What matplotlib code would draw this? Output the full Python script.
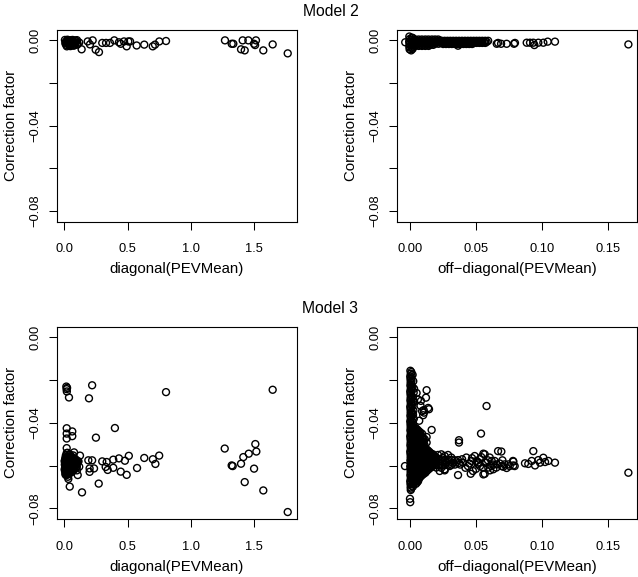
import matplotlib
matplotlib.use("Agg")
import matplotlib.pyplot as plt

plt.rcParams['font.family'] = ['Liberation Sans', 'DejaVu Sans']

# ---------------- data ----------------
# Model 2, diagonal(PEVMean)
m2_diag_x = [0.005, 0.025, 0.045, 0.065, 0.085, 0.100, 0.012, 0.035, 0.055, 0.075,
             0.095, 0.008, 0.030, 0.050, 0.070, 0.090, 0.015, 0.040, 0.060, 0.080,
             0.105, 0.020, 0.048, 0.072, 0.118, 0.018, 0.038, 0.062, 0.082, 0.028,
             0.058, 0.103, 0.137, 0.185, 0.224, 0.203, 0.248, 0.274, 0.300, 0.330,
             0.361, 0.395, 0.432, 0.446, 0.472, 0.506, 0.493, 0.520, 0.572, 0.632,
             0.699, 0.717, 0.751, 0.804,
             1.270, 1.323, 1.336, 1.397, 1.426, 1.410, 1.455, 1.515, 1.500, 1.508,
             1.573, 1.647, 1.766]
m2_diag_y = [0.0002, 0.0003, 0.0001, 0.0002, 0.0000, 0.0001, -0.0006, -0.0005, -0.0007, -0.0006,
             -0.0004, -0.0014, -0.0013, -0.0015, -0.0012, -0.0014, -0.0021, -0.0022, -0.0020, -0.0023,
             -0.0016, -0.0028, -0.0027, -0.0025, -0.0010, -0.0010, -0.0018, -0.0002, -0.0009, 0.0000,
             -0.0012, -0.0020, -0.0042, -0.0005, 0.0000, -0.0019, -0.0044, -0.0055, -0.0012, -0.0012,
             -0.0012, 0.0000, -0.0009, -0.0016, -0.0005, -0.0005, -0.0028, -0.0005, -0.0024, -0.0020,
             -0.0028, -0.0020, -0.0005, -0.0003,
             0.0000, -0.0016, -0.0016, -0.0042, -0.0047, 0.0000, 0.0000, 0.0000, -0.0016, -0.0022,
             -0.0047, -0.0019, -0.0061]

# Model 2, off-diagonal(PEVMean)
m2_off_lead_x = [-0.0005, 0.0012, -0.0003, 0.0010, -0.0006, 0.0013, -0.0004, 0.0011, -0.0005, 0.0012,
                 -0.0003, 0.0009, 0.0020, 0.0018, 0.0022, 0.0019, 0.0021, 0.0018, 0.0020]
m2_off_lead_y = [0.0018, 0.0012, 0.0006, 0.0000, -0.0006, -0.0012, -0.0018, -0.0024, -0.0030, -0.0036,
                 -0.0042, -0.0047, 0.0012, 0.0003, -0.0006, -0.0015, -0.0024, -0.0033, -0.0040]
m2_off_rows_y = [0.0004, -0.0001, -0.0006, -0.0011, -0.0016, -0.0021, -0.0026,
                 -0.0002, -0.0007, -0.0012, -0.0017]
m2_off_rows_x = [
    [0.0040, 0.0065, 0.0090, 0.0116, 0.0140, 0.0166, 0.0190, 0.0214],
    [0.0030, 0.0053, 0.0078, 0.0103, 0.0128, 0.0152, 0.0178, 0.0203, 0.0226],
    [0.0040, 0.0065, 0.0091, 0.0115, 0.0140, 0.0165, 0.0189, 0.0214],
    [0.0030, 0.0052, 0.0078, 0.0102, 0.0127, 0.0153, 0.0177, 0.0201, 0.0228],
    [0.0041, 0.0064, 0.0091, 0.0115, 0.0139, 0.0166, 0.0189, 0.0216],
    [0.0030, 0.0054, 0.0079, 0.0103, 0.0128, 0.0152, 0.0176],
    [0.0040, 0.0066, 0.0091, 0.0116, 0.0141],
    [0.0240, 0.0262, 0.0284, 0.0306, 0.0328, 0.0350, 0.0372, 0.0394, 0.0416, 0.0438, 0.0460, 0.0482,
     0.0504, 0.0526, 0.0548, 0.0570, 0.0592],
    [0.0251, 0.0273, 0.0295, 0.0317, 0.0339, 0.0361, 0.0383, 0.0405, 0.0427, 0.0449, 0.0471, 0.0493,
     0.0515, 0.0537, 0.0559, 0.0581],
    [0.0240, 0.0262, 0.0284, 0.0306, 0.0328, 0.0350, 0.0372, 0.0394, 0.0416, 0.0438, 0.0460, 0.0482,
     0.0504, 0.0526, 0.0548, 0.0570],
    [0.0251, 0.0273, 0.0295, 0.0317, 0.0339, 0.0361, 0.0383, 0.0405, 0.0427, 0.0449, 0.0471],
]
m2_off_sparse_x = [0.0364, 0.0657, 0.0690, 0.0732, 0.0788, 0.0795, 0.0667, 0.0884, 0.0909, 0.0934,
                   0.0942, 0.0972, 0.1010, 0.1043, 0.1098, 0.1654, -0.0036]
m2_off_sparse_y = [-0.0025, -0.0016, -0.0016, -0.0016, -0.0016, -0.0012, -0.0012, -0.0011, -0.0011, -0.0011,
                   -0.0022, -0.0011, -0.0011, -0.0006, -0.0006, -0.0019, -0.0009]

# Model 3, diagonal(PEVMean)
m3_diag_rows_y = [-0.0565, -0.0575, -0.0585, -0.0595, -0.0605, -0.0615, -0.0625, -0.0635,
                  -0.0560, -0.0570, -0.0580, -0.0590, -0.0600, -0.0610, -0.0620, -0.0630, -0.0640]
m3_diag_rows_x = [
    [0.008, 0.025, 0.042, 0.060, 0.078],
    [0.005, 0.020, 0.035, 0.050, 0.065, 0.080, 0.095],
    [0.010, 0.026, 0.041, 0.056, 0.072, 0.088, 0.102],
    [0.004, 0.018, 0.033, 0.048, 0.063, 0.078, 0.093],
    [0.009, 0.024, 0.039, 0.054, 0.069, 0.084, 0.099],
    [0.004, 0.019, 0.034, 0.049, 0.064, 0.079],
    [0.006, 0.021, 0.036, 0.051, 0.066],
    [0.012, 0.027, 0.042],
    [0.015, 0.035],
    [0.012, 0.028, 0.045, 0.058, 0.072, 0.088],
    [0.003, 0.018, 0.033, 0.048, 0.063, 0.078, 0.092, 0.108],
    [0.012, 0.027, 0.042, 0.057, 0.072, 0.087, 0.100],
    [0.011, 0.026, 0.041, 0.056, 0.071, 0.086],
    [0.012, 0.027, 0.042, 0.057, 0.072, 0.090],
    [0.004, 0.013, 0.028, 0.043, 0.058, 0.072],
    [0.014, 0.029, 0.044, 0.060],
    [0.008, 0.020, 0.035],
]
m3_diag_x = [0.015, 0.028, 0.032, 0.012, 0.040, 0.058, 0.112, 0.118, 0.100, 0.045,
             0.070, 0.025,
             0.016, 0.018, 0.020, 0.022, 0.037, 0.220, 0.195, 0.804, 1.647,
             0.400, 0.250, 0.019, 0.019, 0.019, 0.063, 0.063, 0.019, 0.019, 0.077,
             0.124, 0.190, 0.220, 0.300, 0.335, 0.327, 0.387, 0.432, 0.479, 0.510,
             0.343, 0.387, 0.446, 0.493, 0.575, 0.632, 0.700, 0.720, 0.750, 0.200,
             0.235, 0.200, 0.106, 0.043, 0.140, 0.272,
             1.268, 1.323, 1.331, 1.397, 1.415, 1.458, 1.510, 1.518, 1.500, 1.426,
             1.573, 1.766]
m3_diag_y = [-0.0645, -0.0652, -0.0662, -0.0553, -0.0556, -0.0558, -0.0580, -0.0605, -0.0622, -0.0548,
             -0.0552, -0.0540,
             -0.0230, -0.0242, -0.0253, -0.0236, -0.0281, -0.0224, -0.0285, -0.0256, -0.0245,
             -0.0424, -0.0469, -0.0425, -0.0450, -0.0473, -0.0440, -0.0462, -0.0518, -0.0541, -0.0538,
             -0.0553, -0.0575, -0.0575, -0.0580, -0.0583, -0.0606, -0.0572, -0.0566, -0.0577, -0.0554,
             -0.0620, -0.0610, -0.0628, -0.0643, -0.0611, -0.0564, -0.0570, -0.0592, -0.0553, -0.0613,
             -0.0613, -0.0629, -0.0644, -0.0698, -0.0725, -0.0684,
             -0.0520, -0.0599, -0.0602, -0.0591, -0.0560, -0.0544, -0.0499, -0.0534, -0.0614, -0.0677,
             -0.0716, -0.0817]

# Model 3, off-diagonal(PEVMean)
m3_off_band_y = [-0.0156, -0.0162, -0.0170, -0.0177, -0.0183, -0.0191, -0.0197, -0.0204, -0.0211, -0.0219,
                 -0.0225, -0.0232, -0.0240, -0.0246, -0.0253, -0.0261, -0.0267, -0.0274, -0.0282, -0.0288,
                 -0.0295, -0.0303, -0.0309, -0.0316, -0.0324, -0.0330, -0.0337, -0.0345, -0.0351, -0.0358,
                 -0.0366, -0.0372, -0.0379, -0.0387, -0.0393, -0.0400, -0.0408, -0.0414, -0.0421, -0.0429,
                 -0.0435, -0.0442, -0.0450, -0.0456, -0.0463, -0.0471, -0.0477, -0.0484, -0.0492, -0.0498,
                 -0.0505, -0.0513, -0.0519, -0.0526, -0.0534, -0.0540, -0.0547, -0.0555, -0.0561, -0.0568,
                 -0.0576, -0.0582, -0.0589, -0.0597, -0.0603, -0.0610, -0.0618, -0.0624, -0.0631, -0.0639,
                 -0.0645, -0.0652, -0.0660, -0.0666, -0.0673, -0.0681, -0.0687, -0.0694, -0.0702, -0.0708,
                 -0.0714]
m3_off_band_x = [0.0003, 0.0010, 0.0006, 0.0012, 0.0002, 0.0008, 0.0004, 0.0011, 0.0005, 0.0009,
                 0.0003, 0.0010, 0.0006, 0.0012, 0.0002, 0.0008, 0.0004, 0.0011, 0.0005, 0.0009,
                 0.0003, 0.0010, 0.0006, 0.0012, 0.0002, 0.0008, 0.0004, 0.0011, 0.0005, 0.0009,
                 0.0003, 0.0010, 0.0006, 0.0012, 0.0002, 0.0008, 0.0004, 0.0011, 0.0005, 0.0009,
                 0.0003, 0.0010, 0.0006, 0.0012, 0.0002, 0.0008, 0.0004, 0.0011, 0.0005, 0.0009,
                 0.0003, 0.0010, 0.0006, 0.0012, 0.0002, 0.0008, 0.0004, 0.0011, 0.0005, 0.0009,
                 0.0003, 0.0010, 0.0006, 0.0012, 0.0002, 0.0008, 0.0004, 0.0011, 0.0005, 0.0009,
                 0.0003, 0.0010, 0.0006, 0.0012, 0.0002, 0.0008, 0.0004, 0.0011, 0.0005, 0.0009,
                 0.0006]
m3_off_fringe_x = [0.0020, 0.0025, 0.0018, 0.0028, 0.0022, 0.0030, 0.0019, 0.0026, 0.0023, 0.0029,
                   0.0021, 0.0027, 0.0024, 0.0031, 0.0020, 0.0026]
m3_off_fringe_y = [-0.0175, -0.0205, -0.0232, -0.0258, -0.0280, -0.0301, -0.0322, -0.0343, -0.0362, -0.0381,
                   -0.0398, -0.0413, -0.0300, -0.0240, -0.0356, -0.0420]
m3_off_bulge_rows_y = [-0.0425, -0.0438, -0.0451, -0.0464, -0.0477, -0.0490, -0.0503, -0.0516,
                       -0.0529, -0.0542, -0.0555, -0.0568, -0.0581, -0.0594, -0.0607, -0.0620,
                       -0.0633, -0.0646, -0.0659, -0.0672, -0.0685, -0.0698,
                       -0.04315, -0.04445, -0.04575, -0.04705, -0.04835, -0.04965, -0.05095,
                       -0.05225, -0.05355, -0.05485, -0.05615, -0.05745, -0.05875, -0.06005,
                       -0.06135, -0.06265, -0.06395, -0.06525, -0.06655, -0.06785]
m3_off_bulge_rows_x = [
    [0.0022, 0.0045],
    [0.0020, 0.0043, 0.0066],
    [0.0024, 0.0047, 0.0070, 0.0092],
    [0.0021, 0.0044, 0.0067, 0.0090],
    [0.0025, 0.0048, 0.0071, 0.0094, 0.0112],
    [0.0020, 0.0043, 0.0066, 0.0089],
    [0.0024, 0.0047, 0.0070, 0.0093, 0.0110],
    [0.0021, 0.0044, 0.0067, 0.0090, 0.0113],
    [0.0025, 0.0048, 0.0071, 0.0094, 0.0117, 0.0136],
    [0.0020, 0.0043, 0.0066, 0.0089, 0.0112, 0.0135, 0.0158],
    [0.0024, 0.0047, 0.0070, 0.0093, 0.0116, 0.0139, 0.0162, 0.0185],
    [0.0021, 0.0044, 0.0067, 0.0090, 0.0113, 0.0136, 0.0159, 0.0182],
    [0.0025, 0.0048, 0.0071, 0.0094, 0.0117, 0.0140, 0.0163, 0.0186],
    [0.0020, 0.0043, 0.0066, 0.0089, 0.0112, 0.0135, 0.0158, 0.0181],
    [0.0024, 0.0047, 0.0070, 0.0093, 0.0116, 0.0139, 0.0162],
    [0.0021, 0.0044, 0.0067, 0.0090, 0.0113, 0.0136],
    [0.0025, 0.0048, 0.0071, 0.0094, 0.0117],
    [0.0020, 0.0043, 0.0066, 0.0089],
    [0.0024, 0.0047, 0.0070],
    [0.0021, 0.0044, 0.0062],
    [0.0025, 0.0045],
    [0.0022],
    [0.0033, 0.0056],
    [0.0032, 0.0055, 0.0078],
    [0.0033, 0.0056, 0.0079],
    [0.0032, 0.0055, 0.0078, 0.0101],
    [0.0033, 0.0056, 0.0079],
    [0.0032, 0.0055, 0.0078, 0.0101],
    [0.0033, 0.0056, 0.0079, 0.0102],
    [0.0032, 0.0055, 0.0078, 0.0101, 0.0124],
    [0.0033, 0.0056, 0.0079, 0.0102, 0.0125, 0.0147],
    [0.0032, 0.0055, 0.0078, 0.0101, 0.0124, 0.0147, 0.0170],
    [0.0033, 0.0056, 0.0079, 0.0102, 0.0125, 0.0148, 0.0171, 0.0194],
    [0.0032, 0.0055, 0.0078, 0.0101, 0.0124, 0.0147, 0.0170, 0.0193],
    [0.0033, 0.0056, 0.0079, 0.0102, 0.0125, 0.0148, 0.0171, 0.0194],
    [0.0032, 0.0055, 0.0078, 0.0101, 0.0124, 0.0147, 0.0170],
    [0.0033, 0.0056, 0.0079, 0.0102, 0.0125, 0.0148],
    [0.0032, 0.0055, 0.0078, 0.0101, 0.0124],
    [0.0033, 0.0056, 0.0079, 0.0102],
    [0.0032, 0.0055, 0.0078],
    [0.0033, 0.0056],
    [0.0032, 0.0054],
]
m3_off_tail_x = [0.0212, 0.0237, 0.0263, 0.0288, 0.0174, 0.0313, 0.0200, 0.0250,
                 0.0190, 0.0215, 0.0240, 0.0265, 0.0290, 0.0315, 0.0340,
                 0.0200, 0.0225, 0.0250, 0.0275, 0.0300, 0.0325, 0.0350, 0.0372,
                 0.0190, 0.0215, 0.0240, 0.0265, 0.0290, 0.0315, 0.0340,
                 0.0199, 0.0237, 0.0262, 0.0301, 0.0225, 0.0263]
m3_off_tail_y = [-0.0550, -0.0547, -0.0555, -0.0550, -0.0547, -0.0562, -0.0562, -0.0563,
                 -0.0572, -0.0573, -0.0571, -0.0574, -0.0572, -0.0573, -0.0575,
                 -0.0585, -0.0586, -0.0584, -0.0586, -0.0585, -0.0586, -0.0585, -0.0587,
                 -0.0598, -0.0597, -0.0599, -0.0598, -0.0597, -0.0596, -0.0595,
                 -0.0609, -0.0610, -0.0617, -0.0602, -0.0625, -0.0622]
m3_off_far_x = [0.0402, 0.0427, 0.0439, 0.0465, 0.0490, 0.0515, 0.0528, 0.0553, 0.0566, 0.0578,
                0.0604, 0.0616, 0.0641, 0.0667, 0.0692, 0.0654, 0.0717, 0.0755, 0.0780, 0.0793,
                0.0566, 0.0460, 0.0477, 0.0505, 0.0530, 0.0556, 0.0568, 0.0593, 0.0619, 0.0631,
                0.0657, 0.0695, 0.0707, 0.0732, 0.0745, 0.0783, 0.0783, 0.0556, 0.0606, 0.0871,
                0.0896, 0.0922, 0.0934, 0.0947, 0.0972, 0.0985, 0.1010, 0.1023, 0.1048, 0.1098,
                0.0364, 0.0380, 0.0395, 0.0420, 0.0450, 0.0470, 0.0500, 0.0520, 0.0540, 0.0590,
                0.0630, 0.0680, 0.0700,
                0.0126, 0.0121, 0.0083, 0.0144, 0.0138, 0.0104, 0.0106, 0.0100, 0.0080, 0.0092,
                0.0060, 0.0050, 0.0070, 0.0164, 0.0126, 0.0126, 0.0580, 0.0538, 0.0371, 0.0371,
                0.0364, -0.0038, 0.0000, 0.0002, 0.1654]
m3_off_far_y = [-0.0586, -0.0562, -0.0602, -0.0578, -0.0555, -0.0594, -0.0570, -0.0609, -0.0547, -0.0586,
                -0.0562, -0.0602, -0.0578, -0.0532, -0.0534, -0.0609, -0.0594, -0.0602, -0.0578, -0.0602,
                -0.0638, -0.0638, -0.0625, -0.0578, -0.0602, -0.0544, -0.0586, -0.0609, -0.0578, -0.0617,
                -0.0594, -0.0602, -0.0605, -0.0611, -0.0594, -0.0581, -0.0599, -0.0641, -0.0622, -0.0589,
                -0.0592, -0.0578, -0.0532, -0.0599, -0.0574, -0.0586, -0.0563, -0.0583, -0.0578, -0.0586,
                -0.0574, -0.0595, -0.0570, -0.0610, -0.0590, -0.0565, -0.0615, -0.0585, -0.0560, -0.0575,
                -0.0595, -0.0590, -0.0575,
                -0.0247, -0.0282, -0.0297, -0.0336, -0.0330, -0.0340, -0.0352, -0.0364, -0.0320, -0.0345,
                -0.0290, -0.0260, -0.0390, -0.0433, -0.0466, -0.0492, -0.0321, -0.0450, -0.0481, -0.0492,
                -0.0644, -0.0602, -0.0755, -0.0771, -0.0633]

# axis settings
diag_ticks = [0.0, 0.5, 1.0, 1.5]
diag_ticklabels = ['0.0', '0.5', '1.0', '1.5']
off_ticks = [0.00, 0.05, 0.10, 0.15]
off_ticklabels = ['0.00', '0.05', '0.10', '0.15']
y_ticks = [0.00, -0.02, -0.04, -0.06, -0.08]
y_ticklabels = ['0.00', '', '\u22120.04', '', '\u22120.08']


def rows_to_points(rows_y, rows_x):
    xs, ys = [], []
    for yv, row in zip(rows_y, rows_x):
        for xv in row:
            xs.append(xv)
            ys.append(yv)
    return xs, ys


W, H = 638.0, 577.0
fig = plt.figure(figsize=(6.38, 5.77), dpi=100)


def make_ax(left_px, top_px, right_px, bottom_px):
    return fig.add_axes([left_px / W, 1 - bottom_px / H,
                         (right_px - left_px) / W, (bottom_px - top_px) / H])


ax_tl = make_ax(57, 29.5, 296.7, 221.7)
ax_tr = make_ax(397.3, 29.5, 636.7, 221.7)
ax_bl = make_ax(57, 326.5, 296.7, 519.3)
ax_br = make_ax(397.3, 326.5, 636.7, 519.3)

MS = 25
LW = 1.0


def pts(ax, x, y):
    ax.scatter(x, y, s=MS, facecolors='none', edgecolors='black', linewidths=LW, zorder=3)


def style(ax, diag):
    ax.set_ylim(-0.0851, 0.0051)
    if diag:
        ax.set_xlim(-0.0577, 1.837)
        ax.set_xticks(diag_ticks)
        ax.set_xticklabels(diag_ticklabels)
        ax.set_xlabel('diagonal(PEVMean)', fontsize=10.8, labelpad=5.3)
    else:
        ax.set_xlim(-0.0096, 0.1717)
        ax.set_xticks(off_ticks)
        ax.set_xticklabels(off_ticklabels)
        ax.set_xlabel('off\u2212diagonal(PEVMean)', fontsize=10.8, labelpad=5.3)
    ax.set_yticks(y_ticks)
    ax.set_yticklabels(y_ticklabels, rotation=90, va='center')
    ax.set_ylabel('Correction factor', fontsize=10.8, labelpad=8)
    ax.tick_params(axis='x', direction='out', length=5.8, width=0.75, labelsize=9.3, pad=9.6)
    ax.tick_params(axis='y', direction='out', length=5.8, width=0.75, labelsize=9.3, pad=5.5)
    for sp in ax.spines.values():
        sp.set_linewidth(0.8)
        sp.set_color('black')


# Model 2 diagonal
pts(ax_tl, m2_diag_x, m2_diag_y)
style(ax_tl, True)

# Model 2 off-diagonal
pts(ax_tr, m2_off_lead_x, m2_off_lead_y)
gx, gy = rows_to_points(m2_off_rows_y, m2_off_rows_x)
pts(ax_tr, gx, gy)
pts(ax_tr, m2_off_sparse_x, m2_off_sparse_y)
style(ax_tr, False)

# Model 3 diagonal
gx, gy = rows_to_points(m3_diag_rows_y, m3_diag_rows_x)
pts(ax_bl, gx, gy)
pts(ax_bl, m3_diag_x, m3_diag_y)
style(ax_bl, True)

# Model 3 off-diagonal
pts(ax_br, m3_off_band_x, m3_off_band_y)
pts(ax_br, m3_off_fringe_x, m3_off_fringe_y)
gx, gy = rows_to_points(m3_off_bulge_rows_y, m3_off_bulge_rows_x)
pts(ax_br, gx, gy)
pts(ax_br, m3_off_tail_x, m3_off_tail_y)
pts(ax_br, m3_off_far_x, m3_off_far_y)
style(ax_br, False)

fig.text(330.5 / W, 1 - 16 / H, 'Model 2', ha='center', va='baseline', fontsize=11.3)
fig.text(330.5 / W, 1 - 313.3 / H, 'Model 3', ha='center', va='baseline', fontsize=11.3)

fig.savefig('out.png', dpi=100)
